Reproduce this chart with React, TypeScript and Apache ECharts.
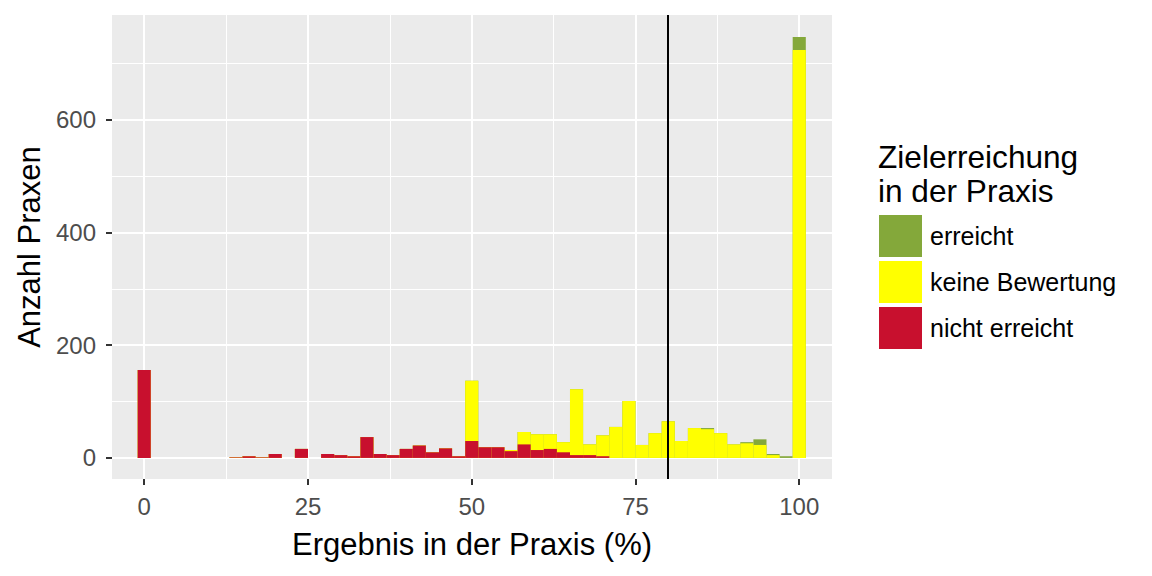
import React, { useEffect, useRef } from 'react';
import * as echarts from 'echarts';

// Bin centres (%), bin width 2
const binCenters = [0, 2, 4, 6, 8, 10, 12, 14, 16, 18, 20, 22, 24, 26, 28, 30, 32, 34, 36, 38, 40, 42, 44, 46, 48, 50, 52, 54, 56, 58, 60, 62, 64, 66, 68, 70, 72, 74, 76, 78, 80, 82, 84, 86, 88, 90, 92, 94, 96, 98, 100];

const nichtErreicht = [156, 0, 0, 0, 0, 0, 0, 1, 3, 1, 7, 0, 16, 0, 7, 5, 3, 37, 7, 5, 16, 22, 10, 17, 3, 30, 19, 19, 12, 24, 14, 16, 10, 5, 5, 3, 0, 0, 0, 0, 0, 0, 0, 0, 0, 0, 0, 0, 0, 0, 0];
const keineBewertung = [0, 0, 0, 0, 0, 0, 0, 0, 0, 0, 0, 0, 0, 0, 0, 0, 0, 0, 0, 0, 0, 0, 0, 0, 0, 107, 0, 0, 2, 22, 28, 26, 18, 117, 19, 37, 55, 101, 23, 44, 65, 30, 53, 51, 44, 24, 26, 23, 5, 0, 724];
const erreicht = [0, 0, 0, 0, 0, 0, 0, 0, 0, 0, 0, 0, 0, 0, 0, 0, 0, 0, 0, 0, 0, 0, 0, 0, 0, 0, 0, 0, 0, 0, 0, 0, 0, 0, 0, 0, 0, 0, 0, 0, 0, 0, 0, 2, 0, 0, 2, 10, 2, 3, 23];

const xTicks = [0, 25, 50, 75, 100];
const xMinor = [12.5, 37.5, 62.5, 87.5];
const yTicks = [0, 200, 400, 600];
const yMinor = [100, 300, 500, 700];
const targetLine = 80;

const seriesNames = ['erreicht', 'keine Bewertung', 'nicht erreicht'];
const seriesColors = ['#84A83A', '#FFFF00', '#C8102E'];

const FONT = '"Liberation Sans", Arial, sans-serif';

export default function App() {
  const ref = useRef<HTMLDivElement>(null);

  useEffect(() => {
    if (!ref.current) return;
    const chart = echarts.init(ref.current, undefined, { renderer: 'svg' });

    const redTop = binCenters.map((x, i) => [x, nichtErreicht[i]]);
    const yellowTop = binCenters.map((x, i) => [x, nichtErreicht[i] + keineBewertung[i]]);
    const greenTop = binCenters.map((x, i) => [x, nichtErreicht[i] + keineBewertung[i] + erreicht[i]]);

    const barCommon = {
      type: 'bar',
      barWidth: 13.1,
      barGap: '-100%',
      z: 2,
      silent: true,
    };

    chart.setOption({
      animation: false,
      backgroundColor: '#FFFFFF',
      textStyle: { fontFamily: FONT },
      grid: {
        left: 112,
        top: 15,
        width: 720,
        height: 464,
        show: true,
        backgroundColor: '#EBEBEB',
        borderWidth: 0,
        containLabel: false,
      },
      xAxis: {
        type: 'value',
        min: -4.92,
        max: 105,
        axisLine: { show: false, onZero: false },
        splitLine: { show: false },
        axisTick: { show: true, customValues: xTicks, length: 6, lineStyle: { color: '#333333', width: 2 } },
        axisLabel: { customValues: xTicks, fontSize: 24, color: '#4D4D4D', margin: 15, fontFamily: FONT },
      },
      yAxis: {
        type: 'value',
        min: -37.4,
        max: 786,
        axisLine: { show: false, onZero: false },
        splitLine: { show: false },
        axisTick: { show: true, customValues: yTicks, length: 6, lineStyle: { color: '#333333', width: 2 } },
        axisLabel: { customValues: yTicks, fontSize: 24, color: '#4D4D4D', margin: 16, fontFamily: FONT },
      },
      legend: {
        data: seriesNames,
        orient: 'vertical',
        left: 879,
        top: 215,
        padding: 0,
        itemWidth: 43,
        itemHeight: 42,
        itemGap: 4,
        icon: 'rect',
        selectedMode: false,
        textStyle: { fontSize: 25, color: '#000000', fontFamily: FONT, padding: [2, 0, 0, 3] },
      },
      graphic: [
        {
          type: 'text',
          x: 29,
          y: 247,
          rotation: Math.PI / 2,
          style: { text: 'Anzahl Praxen', fontSize: 31, fill: '#000000', align: 'center', verticalAlign: 'middle', fontFamily: FONT },
        },
        {
          type: 'text',
          x: 472,
          y: 544,
          style: { text: 'Ergebnis in der Praxis (%)', fontSize: 31, fill: '#000000', align: 'center', verticalAlign: 'middle', fontFamily: FONT },
        },
        {
          type: 'text',
          x: 878,
          y: 157,
          style: { text: 'Zielerreichung', fontSize: 31.6, fill: '#000000', align: 'left', verticalAlign: 'middle', fontFamily: FONT },
        },
        {
          type: 'text',
          x: 878,
          y: 191,
          style: { text: 'in der Praxis', fontSize: 31.6, fill: '#000000', align: 'left', verticalAlign: 'middle', fontFamily: FONT },
        },
      ],
      series: [
        {
          name: 'grid',
          type: 'line',
          data: [],
          silent: true,
          markLine: {
            z: 1,
            silent: true,
            symbol: ['none', 'none'],
            label: { show: false },
            lineStyle: { color: '#FFFFFF', type: 'solid', width: 2 },
            data: [
              ...xTicks.map((v) => ({ xAxis: v })),
              ...xMinor.map((v) => ({ xAxis: v, lineStyle: { color: '#FFFFFF', type: 'solid', width: 1 } })),
              ...yTicks.map((v) => ({ yAxis: v })),
              ...yMinor.map((v) => ({ yAxis: v, lineStyle: { color: '#FFFFFF', type: 'solid', width: 1 } })),
            ],
          },
        },
        { ...barCommon, name: seriesNames[0], data: greenTop, itemStyle: { color: seriesColors[0] } },
        { ...barCommon, name: seriesNames[1], data: yellowTop, itemStyle: { color: seriesColors[1] } },
        { ...barCommon, name: seriesNames[2], data: redTop, itemStyle: { color: seriesColors[2] } },
        {
          name: 'ziel',
          type: 'line',
          data: [],
          silent: true,
          markLine: {
            z: 10,
            silent: true,
            symbol: ['none', 'none'],
            label: { show: false },
            lineStyle: { color: '#000000', type: 'solid', width: 2 },
            data: [{ xAxis: targetLine }],
          },
        },
      ],
    });

    return () => chart.dispose();
  }, []);

  return (
    <div
      ref={ref}
      style={{ position: 'fixed', left: 0, top: 0, width: 1152, height: 576, background: '#FFFFFF' }}
    />
  );
}
